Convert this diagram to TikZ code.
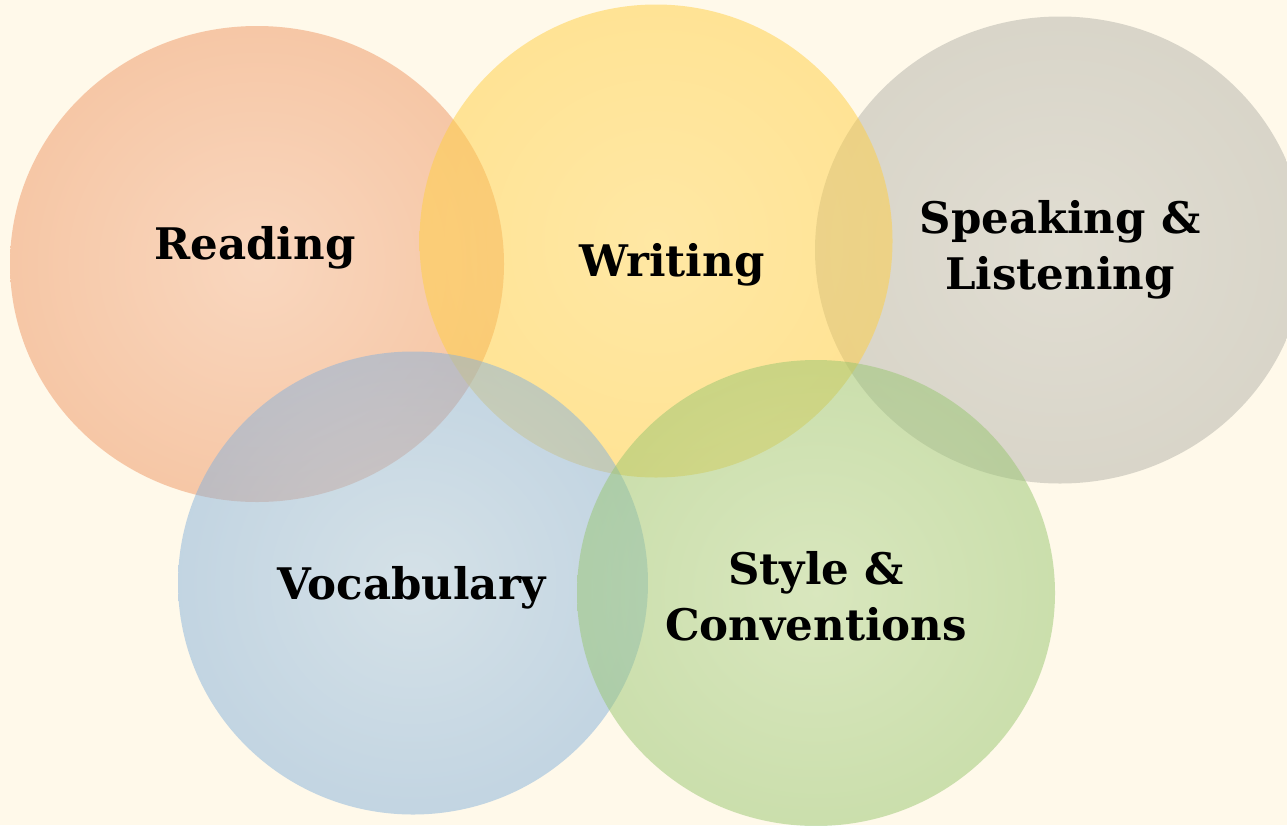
\documentclass[tikz,border=0pt]{standalone}
\usepackage{fontspec}
\setmainfont{DejaVu Serif}
\usetikzlibrary{shapes.geometric}
\definecolor{bgc}{RGB}{255,249,234}
\definecolor{rdin}{RGB}{245,182,148}
\definecolor{rdout}{RGB}{232,118,50}
\definecolor{wrin}{RGB}{255,216,95}
\definecolor{wrout}{RGB}{255,197,35}
\definecolor{spin}{RGB}{196,195,188}
\definecolor{spout}{RGB}{163,162,150}
\definecolor{vcin}{RGB}{172,203,230}
\definecolor{vcout}{RGB}{98,152,208}
\definecolor{stin}{RGB}{180,214,147}
\definecolor{stout}{RGB}{123,181,76}
\pgfdeclareradialshading{rdshade}{\pgfpoint{0bp}{0bp}}{color(0bp)=(rdin); color(50bp)=(rdout)}
\pgfdeclareradialshading{wrshade}{\pgfpoint{0bp}{0bp}}{color(0bp)=(wrin); color(50bp)=(wrout)}
\pgfdeclareradialshading{spshade}{\pgfpoint{0bp}{0bp}}{color(0bp)=(spin); color(50bp)=(spout)}
\pgfdeclareradialshading{vcshade}{\pgfpoint{0bp}{0bp}}{color(0bp)=(vcin); color(50bp)=(vcout)}
\pgfdeclareradialshading{stshade}{\pgfpoint{0bp}{0bp}}{color(0bp)=(stin); color(50bp)=(stout)}
\tikzset{
  blob/.style={ellipse, inner sep=0pt, outer sep=0pt, shade, draw=none, fill opacity=0.5},
  lbl/.style={font=\bfseries\fontsize{43.5}{56}\selectfont, align=center, text=black, inner sep=0pt}
}
\begin{document}
\begin{tikzpicture}[x=1pt,y=-1pt]
\fill[bgc] (0,0) rectangle (1287,825);
\useasboundingbox (0,0) rectangle (1287,825);
\begin{scope}
\clip (0,0) rectangle (1287,825);
\node[blob, shading=rdshade, minimum width=494pt, minimum height=476pt] (reading) at (257,264) {};
\node[blob, shading=spshade, minimum width=490pt, minimum height=467pt] (speaking) at (1060,250) {};
\node[blob, shading=wrshade, minimum width=473pt, minimum height=473pt] (writing) at (656,241) {};
\node[blob, shading=vcshade, minimum width=470pt, minimum height=463pt] (vocab) at (413,583) {};
\node[blob, shading=stshade, minimum width=478pt, minimum height=466pt] (style) at (816,593) {};
\end{scope}
\node[lbl, anchor=base] (treading) at (255,259) {Reading};
\node[lbl, anchor=base] (twriting) at (672,276) {Writing};
\node[lbl] (tspeaking) at (1060,250) {Speaking \&\\Listening};
\node[lbl, anchor=base] (tvocab) at (412,599) {Vocabulary};
\node[lbl] (tstyle) at (816,596) {Style \&\\Conventions};
\end{tikzpicture}
\end{document}
